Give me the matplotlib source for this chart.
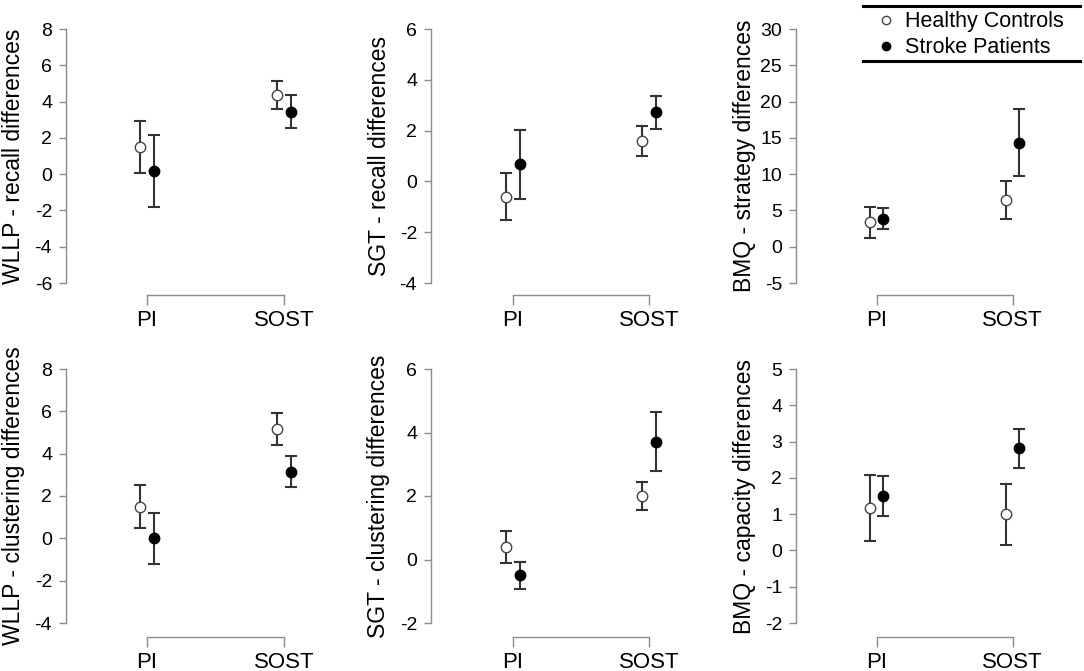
import matplotlib
matplotlib.use("Agg")
import matplotlib.pyplot as plt
from matplotlib.lines import Line2D

plt.rcParams['font.family'] = ['Liberation Sans', 'DejaVu Sans']
plt.rcParams['axes.unicode_minus'] = False

# ---- data ----
categories = ["PI", "SOST"]
group_names = ["Healthy Controls", "Stroke Patients"]

ylabels = [
    "WLLP - recall differences",
    "SGT - recall differences",
    "BMQ - strategy differences",
    "WLLP - clustering differences",
    "SGT - clustering differences",
    "BMQ - capacity differences",
]

hc_mean = [
    [1.50, 4.37],
    [-0.60, 1.60],
    [3.35, 6.40],
    [1.50, 5.15],
    [0.40, 2.00],
    [1.17, 1.00],
]
hc_err = [
    [1.45, 0.78],
    [0.93, 0.60],
    [2.10, 2.60],
    [1.00, 0.75],
    [0.51, 0.45],
    [0.90, 0.84],
]
sp_mean = [
    [0.16, 3.45],
    [0.67, 2.72],
    [3.85, 14.35],
    [0.00, 3.15],
    [-0.50, 3.71],
    [1.50, 2.82],
]
sp_err = [
    [1.98, 0.90],
    [1.37, 0.64],
    [1.45, 4.65],
    [1.20, 0.73],
    [0.43, 0.92],
    [0.56, 0.54],
]

yticks = [
    [-6, -4, -2, 0, 2, 4, 6, 8],
    [-4, -2, 0, 2, 4, 6],
    [-5, 0, 5, 10, 15, 20, 25, 30],
    [-4, -2, 0, 2, 4, 6, 8],
    [-2, 0, 2, 4, 6],
    [-2, -1, 0, 1, 2, 3, 4, 5],
]

# ---- layout (pixels) ----
W, H = 1084, 671
spine_x = [66, 431, 796]
pi_x = [147, 512.7, 876.5]
sost_x = [284, 649.3, 1012.5]
tick_top = [29, 369]
tick_bot = [283, 623]
xspine_y = [295, 637]
right_pad = 50
dodge = 0.05

gray = "#8c8c8c"
dark = "#333333"

fig = plt.figure(figsize=(W / 100, H / 100), dpi=100)

axes = []
for i in range(6):
    row, col = divmod(i, 3)
    left = spine_x[col]
    right = sost_x[col] + right_pad
    ax = fig.add_axes([left / W, 1 - tick_bot[row] / H,
                       (right - left) / W, (tick_bot[row] - tick_top[row]) / H])
    unit = sost_x[col] - pi_x[col]
    ax.set_xlim(-(pi_x[col] - left) / unit, 1 + right_pad / unit)
    ax.set_ylim(yticks[i][0], yticks[i][-1])

    xs = list(range(len(categories)))
    x_hc = [x - dodge for x in xs]
    x_sp = [x + dodge for x in xs]

    ax.errorbar(x_hc, hc_mean[i], yerr=hc_err[i], fmt='none', ecolor=dark,
                elinewidth=1.5, capsize=4.5, capthick=1.5, clip_on=False, zorder=2)
    ax.errorbar(x_sp, sp_mean[i], yerr=sp_err[i], fmt='none', ecolor=dark,
                elinewidth=1.5, capsize=4.5, capthick=1.5, clip_on=False, zorder=2)
    h1, = ax.plot(x_hc, hc_mean[i], 'o', ms=7.5, mfc='white', mec='#444444',
                  mew=1.0, clip_on=False, zorder=3, label=group_names[0])
    h2, = ax.plot(x_sp, sp_mean[i], 'o', ms=7.5, mfc='black', mec='black',
                  mew=1.0, clip_on=False, zorder=3, label=group_names[1])

    for s in ['top', 'right']:
        ax.spines[s].set_visible(False)
    ax.spines['left'].set_bounds(yticks[i][0], yticks[i][-1])
    ax.spines['bottom'].set_bounds(0, 1)
    ax.spines['bottom'].set_position(('outward', (xspine_y[row] - tick_bot[row]) * 0.72))
    for s in ['left', 'bottom']:
        ax.spines[s].set_color(gray)
        ax.spines[s].set_linewidth(1.0)

    ax.set_xticks(xs)
    ax.set_xticklabels(categories)
    ax.set_yticks(yticks[i])
    ax.tick_params(axis='y', direction='out', length=5, width=1.0, color=gray,
                   labelsize=14, pad=5)
    ax.tick_params(axis='x', direction='out', length=7.2, width=1.0, color=gray,
                   labelsize=16, pad=3.5)
    ax.set_ylabel(ylabels[i], fontsize=16.5, va='center')
    ax.yaxis.set_label_coords(-52 / (right - left), 0.5)
    axes.append(ax)

# legend in the top right corner with thick rules above and below
leg = fig.legend(handles=[h1, h2], loc='upper left',
                 bbox_to_anchor=(875 / W, 1 - 11.5 / H), frameon=False,
                 fontsize=15.5, handlelength=1.0, handletextpad=0.4,
                 labelspacing=0.23, borderpad=0, borderaxespad=0,
                 markerscale=0.8)
fig.add_artist(Line2D([863 / W, 1080 / W], [1 - 5.5 / H, 1 - 5.5 / H],
                      transform=fig.transFigure, color='black', lw=2.2))
fig.add_artist(Line2D([863 / W, 1080 / W], [1 - 60.5 / H, 1 - 60.5 / H],
                      transform=fig.transFigure, color='black', lw=2.2))

fig.savefig("out.png", dpi=100)
